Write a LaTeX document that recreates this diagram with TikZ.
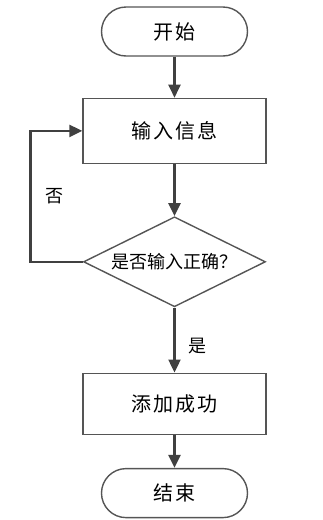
\documentclass[tikz,border=0pt]{standalone}
\usepackage{fontspec}
\usepackage{tikz}
\usetikzlibrary{shapes.geometric,arrows.meta,positioning}
\newfontfamily\cjk{Noto Sans CJK SC}
\newfontfamily\cjkwide[LetterSpace=10]{Noto Sans CJK SC}
\definecolor{lineGray}{HTML}{404040}
\definecolor{borderGray}{HTML}{555555}

\begin{document}
\begin{tikzpicture}[
    font=\cjk\fontsize{18pt}{20pt}\selectfont,
    terminal/.style={draw=borderGray, line width=1.4pt, rectangle, rounded corners=24.5pt, minimum width=146pt, minimum height=49pt, font=\cjkwide\fontsize{20pt}{22pt}\selectfont},
    action/.style={draw=borderGray, line width=1.4pt, rectangle, minimum width=183pt, font=\cjkwide\fontsize{20pt}{22pt}\selectfont},
    decision/.style={draw=borderGray, line width=1.4pt, diamond, aspect=2, inner sep=0pt, minimum width=182pt, minimum height=90pt},
    arrow/.style={-{Triangle[length=13pt, width=12pt]}, draw=lineGray, line width=2.4pt}
]
    \useasboundingbox (0,0) rectangle (322pt,-520pt);

    \node[terminal] (start) at (174.5pt,-31.5pt) {开始};
    \node[action, minimum height=65pt, below=41pt of start] (input) {输入信息};
    \node[decision, below=52pt of input] (check) {是否输入正确？};
    \node[action, minimum height=61pt, below=65pt of check] (success) {添加成功};
    \node[terminal, below=33pt of success] (finish) {结束};

    \draw[arrow] (start) -- (input);
    \draw[arrow] (input) -- (check);
    \draw[arrow] (check) -- node[pos=0.6, right=9pt] {是} (success);
    \draw[arrow] (check.west) -| ([xshift=-52pt]input.west)
        node[pos=0.75, right=11pt] {否} -- (input.west);
    \draw[arrow] (success) -- (finish);
\end{tikzpicture}
\end{document}
